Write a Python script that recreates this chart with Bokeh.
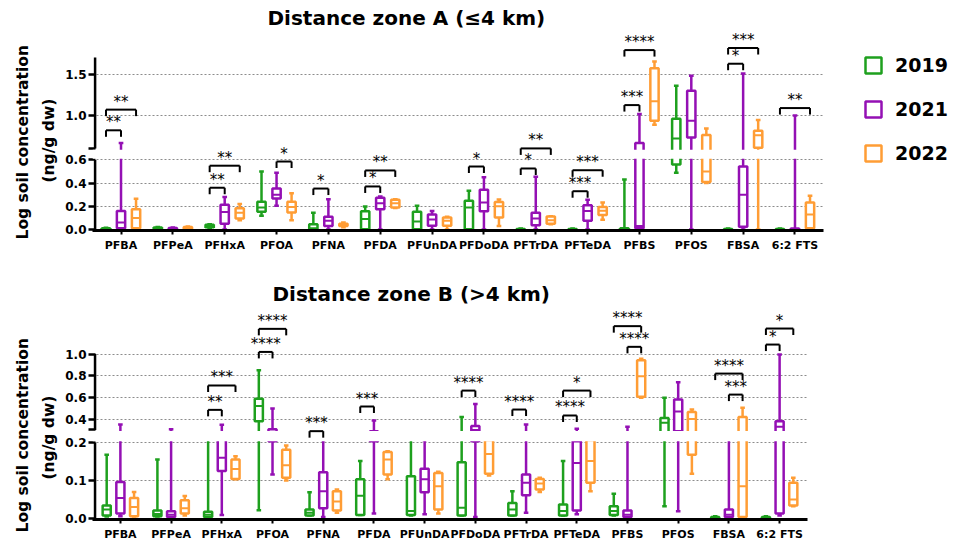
from bokeh.plotting import figure
from bokeh.models import (ColumnDataSource, FactorRange, Range1d, FixedTicker,
                          CustomJSTransform, BoxAnnotation, Legend, LegendItem, Title)
from bokeh.transform import dodge, transform
from bokeh.layouts import column
from bokeh.embed import file_html
from bokeh.resources import INLINE
from bokeh.core.properties import value

# ---------------- data ----------------
compounds = ["PFBA", "PFPeA", "PFHxA", "PFOA", "PFNA", "PFDA", "PFUnDA",
             "PFDoDA", "PFTrDA", "PFTeDA", "PFBS", "PFOS", "FBSA", "6:2 FTS"]
years = ["2019", "2021", "2022"]

# five-number summaries per compound: (min, q1, median, q3, max)
zone_a_2019 = [(0.0, 0.002, 0.005, 0.01, 0.015), (0.005, 0.008, 0.012, 0.018, 0.022),
               (0.015, 0.02, 0.03, 0.04, 0.046), (0.118, 0.152, 0.19, 0.24, 0.5),
               (0.0, 0.002, 0.01, 0.046, 0.144), (0.0, 0.002, 0.09, 0.158, 0.198),
               (0.0, 0.002, 0.07, 0.152, 0.204), (0.0, 0.002, 0.19, 0.247, 0.333),
               (0.0, 0.0, 0.002, 0.005, 0.008), (0.0, 0.0, 0.002, 0.005, 0.008),
               (0.0, 0.002, 0.005, 0.01, 0.431), (0.49, 0.56, 0.72, 0.96, 1.36),
               (0.0, 0.0, 0.002, 0.005, 0.008), (0.0, 0.0, 0.002, 0.005, 0.008)]
zone_a_2021 = [(0.0, 0.01, 0.06, 0.16, 0.665), (0.0, 0.004, 0.008, 0.014, 0.018),
               (0.0, 0.05, 0.15, 0.213, 0.28), (0.204, 0.267, 0.30, 0.353, 0.49),
               (0.0, 0.03, 0.075, 0.11, 0.26), (0.0, 0.175, 0.227, 0.273, 0.285),
               (0.0, 0.032, 0.086, 0.13, 0.16), (0.0, 0.158, 0.233, 0.342, 0.45),
               (0.0, 0.037, 0.095, 0.144, 0.454), (0.0, 0.075, 0.16, 0.21, 0.256),
               (0.0, 0.01, 0.03, 0.665, 1.016), (0.0, 0.734, 0.935, 1.298, 1.48),
               (0.0, 0.023, 0.3, 0.543, 1.508), (0.0, 0.0, 0.003, 0.008, 1.0)]
zone_a_2022 = [(0.0, 0.01, 0.1, 0.175, 0.265), (0.005, 0.01, 0.015, 0.022, 0.026),
               (0.08, 0.095, 0.144, 0.184, 0.22), (0.08, 0.147, 0.195, 0.24, 0.313),
               (0.02, 0.03, 0.04, 0.05, 0.06), (0.185, 0.19, 0.227, 0.256, 0.26),
               (0.0, 0.032, 0.075, 0.103, 0.11), (0.03, 0.103, 0.2, 0.238, 0.259),
               (0.045, 0.049, 0.08, 0.112, 0.115), (0.083, 0.124, 0.161, 0.195, 0.233),
               (0.887, 0.935, 1.17, 1.569, 1.653), (0.4, 0.41, 0.5, 0.762, 0.843),
               (0.0, 0.61, 0.76, 0.815, 0.944), (0.0, 0.011, 0.13, 0.233, 0.29)]

zone_b_2019 = [(0.005, 0.008, 0.024, 0.034, 0.168), (0.005, 0.006, 0.012, 0.021, 0.155),
               (0.004, 0.004, 0.01, 0.018, 0.25), (0.022, 0.381, 0.52, 0.587, 0.851),
               (0.008, 0.008, 0.015, 0.024, 0.069), (0.009, 0.009, 0.06, 0.103, 0.151),
               (0.008, 0.009, 0.02, 0.111, 0.25), (0.008, 0.008, 0.028, 0.148, 0.418),
               (0.008, 0.008, 0.024, 0.041, 0.072), (0.008, 0.008, 0.02, 0.037, 0.151),
               (0.008, 0.009, 0.02, 0.032, 0.065), (0.032, 0.28, 0.365, 0.411, 0.596),
               (0.0, 0.0, 0.002, 0.004, 0.006), (0.0, 0.0, 0.002, 0.004, 0.006)]
zone_b_2021 = [(0.006, 0.013, 0.054, 0.096, 0.35), (0.004, 0.004, 0.01, 0.019, 0.305),
               (0.009, 0.125, 0.16, 0.25, 0.347), (0.116, 0.21, 0.25, 0.305, 0.498),
               (0.004, 0.027, 0.072, 0.122, 0.22), (0.013, 0.21, 0.25, 0.29, 0.387),
               (0.011, 0.069, 0.103, 0.131, 0.22), (0.004, 0.21, 0.3, 0.335, 0.54),
               (0.015, 0.061, 0.094, 0.116, 0.35), (0.011, 0.021, 0.146, 0.21, 0.31),
               (0.004, 0.004, 0.01, 0.021, 0.328), (0.019, 0.29, 0.47, 0.58, 0.74),
               (0.004, 0.004, 0.01, 0.024, 0.25), (0.008, 0.013, 0.33, 0.38, 0.996)]
zone_b_2022 = [(0.005, 0.006, 0.03, 0.054, 0.07), (0.008, 0.013, 0.027, 0.048, 0.059),
               (0.103, 0.104, 0.13, 0.155, 0.164), (0.1, 0.107, 0.14, 0.181, 0.192),
               (0.015, 0.021, 0.045, 0.072, 0.076), (0.103, 0.116, 0.155, 0.175, 0.177),
               (0.013, 0.024, 0.085, 0.12, 0.123), (0.113, 0.118, 0.17, 0.22, 0.23),
               (0.07, 0.076, 0.092, 0.104, 0.107), (0.072, 0.094, 0.151, 0.22, 0.25),
               (0.596, 0.606, 0.796, 0.944, 0.956), (0.118, 0.168, 0.4, 0.465, 0.488),
               (0.002, 0.004, 0.085, 0.42, 0.504), (0.032, 0.034, 0.05, 0.094, 0.107)]

# significance brackets: (compound, from year index, to year index, bracket level, stars)
zone_a_brackets = [("PFBA", 0, 1, 0.82, "**"), ("PFBA", 0, 2, 1.07, "**"),
                   ("PFHxA", 0, 1, 0.36, "**"), ("PFHxA", 0, 2, 0.55, "**"),
                   ("PFOA", 1, 2, 0.586, "*"), ("PFNA", 0, 1, 0.353, "*"),
                   ("PFDA", 0, 1, 0.371, "*"), ("PFDA", 0, 2, 0.509, "**"),
                   ("PFDoDA", 0, 1, 0.543, "*"),
                   ("PFTrDA", 0, 1, 0.526, "*"), ("PFTrDA", 0, 2, 0.601, "**"),
                   ("PFTeDA", 0, 1, 0.33, "***"), ("PFTeDA", 0, 2, 0.511, "***"),
                   ("PFBS", 0, 1, 1.125, "***"), ("PFBS", 0, 2, 1.79, "****"),
                   ("FBSA", 0, 1, 1.625, "*"), ("FBSA", 0, 2, 1.815, "***"),
                   ("6:2 FTS", 0, 2, 1.089, "**")]
zone_b_brackets = [("PFHxA", 0, 1, 0.485, "**"), ("PFHxA", 0, 2, 0.71, "***"),
                   ("PFOA", 0, 1, 1.02, "****"), ("PFOA", 0, 2, 1.233, "****"),
                   ("PFNA", 0, 1, 0.29, "***"), ("PFDA", 0, 1, 0.516, "***"),
                   ("PFDoDA", 0, 1, 0.663, "****"), ("PFTrDA", 0, 1, 0.488, "****"),
                   ("PFTeDA", 0, 1, 0.433, "****"), ("PFTeDA", 0, 2, 0.663, "*"),
                   ("PFBS", 1, 2, 1.067, "****"), ("PFBS", 0, 2, 1.258, "****"),
                   ("FBSA", 1, 2, 0.626, "***"), ("FBSA", 0, 2, 0.82, "****"),
                   ("6:2 FTS", 0, 1, 1.088, "*"), ("6:2 FTS", 0, 2, 1.236, "*")]

# ---------------- styling / layout ----------------
colors = ["#1ea01e", "#9410b4", "#ff9d35"]
FONT = "DejaVu Sans"

panels = {
    "A": dict(title="Distance zone  A (\u22644 km)", lo=0.6, hb=0.6, kl=116.0, gap=11.4, kh=82.7,
              axis_top=1.7, ticks=[(0.0, "0.0"), (0.2, "0.2"), (0.4, "0.4"), (0.6, "0.6"),
                                   (0.6 + 1e-9, ""), (1.0, "1.0"), (1.5, "1.5")],
              grid=[0.2, 0.4, 0.6, 1.0, 1.5], y_end=197, frame_w=731, frame_h=198,
              b_top=30, b_bottom=24, offs=0.29, title_off=175, title_standoff=6,
              lab_off=(-9, 48)),
    "B": dict(title="Distance zone  B (>4 km)", lo=0.2, hb=0.3, kl=380.0, gap=12.6, kh=108.3,
              axis_top=1.0, ticks=[(0.0, "0.0"), (0.1, "0.1"), (0.2, "0.2"), (0.3, ""),
                                   (0.4, "0.4"), (0.6, "0.6"), (0.8, "0.8"), (1.0, "1.0")],
              grid=[0.1, 0.2, 0.4, 0.6, 0.8, 1.0], y_end=210, frame_w=715, frame_h=211,
              b_top=54, b_bottom=22, offs=0.27, title_off=180, title_standoff=6,
              lab_off=(-13, 40)),
}

JS_ONE = """
const a = lo * kl;
let d;
if (x <= lo) d = x * kl;
else if (x < hb) d = a + (x - lo) / (hb - lo) * gap;
else d = a + gap + (x - hb) * kh;
return d + off;
"""
JS_VEC = """
const a = lo * kl;
const out = new Array(xs.length);
for (let i = 0; i < xs.length; i++) {
  const x = xs[i];
  let d;
  if (x <= lo) d = x * kl;
  else if (x < hb) d = a + (x - lo) / (hb - lo) * gap;
  else d = a + gap + (x - hb) * kh;
  out[i] = d + off;
}
return out;
"""


def make_T(cfg, off=0.0):
    return CustomJSTransform(args=dict(lo=cfg["lo"], hb=cfg["hb"], kl=cfg["kl"], gap=cfg["gap"],
                                       kh=cfg["kh"], off=off), func=JS_ONE, v_func=JS_VEC)


def disp(cfg, v):
    a = cfg["lo"] * cfg["kl"]
    if v <= cfg["lo"]:
        return v * cfg["kl"]
    if v < cfg["hb"]:
        return a + (v - cfg["lo"]) / (cfg["hb"] - cfg["lo"]) * cfg["gap"]
    return a + cfg["gap"] + (v - cfg["hb"]) * cfg["kh"]


def build(cfg, data_by_year, brackets, with_legend):
    W = 941
    b_left = 92
    b_right = W - b_left - cfg["frame_w"]
    xr = FactorRange(*compounds, range_padding=0.05, range_padding_units="absolute")
    p = figure(x_range=xr, y_range=Range1d(-1, cfg["y_end"]),
               frame_width=cfg["frame_w"], frame_height=cfg["frame_h"],
               output_backend="svg", toolbar_location=None,
               min_border_left=b_left, min_border_right=b_right,
               min_border_top=cfg["b_top"], min_border_bottom=cfg["b_bottom"])
    p.outline_line_color = None
    p.background_fill_color = "white"
    p.border_fill_color = "white"

    T = make_T(cfg)
    T_leg = make_T(cfg, -6.5)

    # title
    p.title.text = cfg["title"]
    p.title.align = "left"
    p.title.offset = cfg["title_off"]
    p.title.text_font = FONT
    p.title.text_font_size = "20px"
    p.title.text_font_style = "bold"
    p.title.text_color = "black"
    p.title.standoff = cfg["title_standoff"]

    # axes
    ticks = [round(disp(cfg, v), 3) for v, _ in cfg["ticks"]]
    yax = p.yaxis[0]
    yax.ticker = FixedTicker(ticks=ticks, minor_ticks=[])
    yax.major_label_overrides = {t: lab for t, (_, lab) in zip(ticks, cfg["ticks"])}
    yax.axis_line_color = None
    yax.major_tick_line_width = 2.5
    yax.major_tick_line_color = "black"
    yax.major_tick_out = 4
    yax.major_tick_in = 3
    yax.minor_tick_line_color = None
    yax.major_label_standoff = 2
    yax.major_label_text_font = FONT
    yax.major_label_text_font_style = "bold"
    yax.major_label_text_font_size = "12px"
    yax.major_label_text_color = "black"

    xax = p.xaxis[0]
    xax.axis_line_width = 3
    xax.axis_line_color = "black"
    xax.major_tick_line_width = 2
    xax.major_tick_line_color = "black"
    xax.major_tick_out = 4
    xax.major_tick_in = 0
    xax.major_label_standoff = 4
    xax.major_label_text_font = FONT
    xax.major_label_text_font_style = "bold"
    xax.major_label_text_font_size = "11px"
    xax.major_label_text_color = "black"

    p.xgrid.visible = False
    p.ygrid.ticker = FixedTicker(ticks=[disp(cfg, v) for v in cfg["grid"]], minor_ticks=[])
    p.ygrid.grid_line_color = "#8c8c8c"
    p.ygrid.grid_line_dash = "2 2"
    p.ygrid.grid_line_width = 1

    # y-axis label (two lines)
    t2 = Title(text="(ng/g dw)", align="left", offset=cfg["lab_off"][1], text_font=FONT,
               text_font_size="15.5px", text_font_style="bold", text_color="black", standoff=10)
    p.add_layout(t2, "left")
    t1 = Title(text="Log soil concentration", align="left", offset=cfg["lab_off"][0],
               text_font=FONT, text_font_size="15.5px", text_font_style="bold",
               text_color="black", standoff=2)
    p.add_layout(t1, "left")

    # broken y-axis line
    upper_start = cfg["ticks"][4][0] if cfg["lo"] == cfg["hb"] else cfg["hb"]
    axsrc = ColumnDataSource(dict(x=[0, 0], y0=[-0.01, upper_start],
                                  y1=[cfg["lo"], cfg["axis_top"]]))
    p.segment(x0="x", x1="x", y0=transform("y0", T), y1=transform("y1", T), source=axsrc,
              line_color="black", line_width=2.5)

    offs = [-cfg["offs"], 0.0, cfg["offs"]]
    bw = 0.16
    cap = 0.09
    box_rs = []
    for yi, rows in enumerate(data_by_year):
        c = colors[yi]
        off = offs[yi]
        src = ColumnDataSource(dict(cat=compounds,
                                    lo=[r[0] for r in rows], q1=[r[1] for r in rows],
                                    med=[r[2] for r in rows], q3=[r[3] for r in rows],
                                    hi=[r[4] for r in rows]))
        xc = dodge("cat", off, range=xr)
        xl = dodge("cat", off - cap / 2, range=xr)
        xrr = dodge("cat", off + cap / 2, range=xr)
        p.segment(x0=xc, x1=xc, y0=transform("q3", T), y1=transform("hi", T), source=src,
                  line_color=c, line_width=2.5)
        p.segment(x0=xc, x1=xc, y0=transform("lo", T), y1=transform("q1", T), source=src,
                  line_color=c, line_width=2.5)
        p.segment(x0=xl, x1=xrr, y0=transform("hi", T), y1=transform("hi", T), source=src,
                  line_color=c, line_width=2.5)
        p.segment(x0=xl, x1=xrr, y0=transform("lo", T), y1=transform("lo", T), source=src,
                  line_color=c, line_width=2.5)
        r = p.vbar(x=xc, width=bw, bottom=transform("q1", T), top=transform("q3", T), source=src,
                   fill_color="white", line_color=c, line_width=2.5)
        p.segment(x0=dodge("cat", off - bw / 2, range=xr), x1=dodge("cat", off + bw / 2, range=xr),
                  y0=transform("med", T), y1=transform("med", T), source=src,
                  line_color=c, line_width=2)
        box_rs.append(r)

    # white band for the axis break
    band = BoxAnnotation(bottom=disp(cfg, cfg["lo"]) + 1.2,
                         top=disp(cfg, upper_start) - 1.2,
                         fill_color="white", fill_alpha=1.0, line_color=None)
    p.add_layout(band)

    # brackets
    for pair in [(0, 1), (0, 2), (1, 2)]:
        rows = [b for b in brackets if (b[1], b[2]) == pair]
        if not rows:
            continue
        src = ColumnDataSource(dict(cat=[b[0] for b in rows], y=[b[3] for b in rows],
                                    stars=[b[4] for b in rows]))
        xa = dodge("cat", offs[pair[0]], range=xr)
        xb = dodge("cat", offs[pair[1]], range=xr)
        xm = dodge("cat", (offs[pair[0]] + offs[pair[1]]) / 2, range=xr)
        p.segment(x0=xa, x1=xb, y0=transform("y", T), y1=transform("y", T), source=src,
                  line_color="black", line_width=2, level="overlay")
        for xx in (xa, xb):
            p.segment(x0=xx, x1=xx, y0=transform("y", T), y1=transform("y", T_leg), source=src,
                      line_color="black", line_width=2, level="overlay")
        p.text(x=xm, y=transform("y", T), text="stars", source=src, text_align="center",
               text_baseline="alphabetic", text_font=value(FONT), text_font_style="normal",
               text_font_size="15px", text_color="black", y_offset=-8, level="overlay")

    if with_legend:
        legend = Legend(items=[LegendItem(label=yr, renderers=[r]) for yr, r in zip(years, box_rs)],
                        location=(40, 66), glyph_width=20, glyph_height=20, label_height=20,
                        spacing=22, padding=0, margin=0, label_standoff=12,
                        border_line_color=None, background_fill_alpha=0,
                        label_text_font=FONT, label_text_font_style="bold",
                        label_text_font_size="19px", label_text_color="black")
        p.add_layout(legend, "right")
    return p


pA = build(panels["A"], [zone_a_2019, zone_a_2021, zone_a_2022], zone_a_brackets, True)
pB = build(panels["B"], [zone_b_2019, zone_b_2021, zone_b_2022], zone_b_brackets, False)

layout = column(pA, pB, spacing=0)
open("out.html", "w").write(file_html(layout, INLINE))
